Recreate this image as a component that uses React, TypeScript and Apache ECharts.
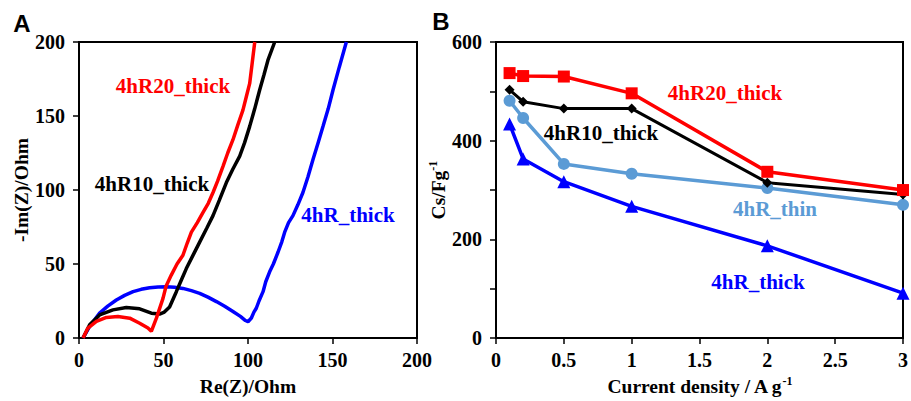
import React, { useEffect, useRef } from "react";
import * as echarts from "echarts";

// Panel A: Nyquist plots [Re(Z), -Im(Z)]
const nyquist4hR20: [number, number][] = [
  [2.4, 0], [5.3, 6.7], [10.3, 11.2], [16.2, 13.9], [23, 14.5], [30, 13.4], [35.9, 10], [40.8, 6.7], [42.8, 4.5],
  [45.8, 13.4], [49.7, 26.8], [51.5, 35], [54.6, 42.5], [58, 50], [61.5, 55.9], [64, 64], [66.5, 71.5], [70, 78], [73.4, 84.9],
  [76.5, 91], [79.3, 98.3], [82, 106], [85.2, 116], [88, 125], [91.1, 134], [94, 144], [97, 154], [99, 163], [101, 172], [102.5, 186], [104, 200],
];
const nyquist4hR10: [number, number][] = [
  [2.4, 0], [6.3, 8.9], [12.2, 15.6], [20.1, 19], [28, 20.6], [35.9, 19.7], [42.8, 16.8], [47.7, 16.2], [50.5, 17.5],
  [53.6, 21], [57.6, 31.3], [60.5, 39], [63.5, 46.9], [67.5, 56], [71.4, 64.8], [75.5, 74], [79.3, 82.7], [83, 93], [87.2, 105],
  [91, 114], [95.1, 122.9], [98, 132], [101, 143], [104, 155], [106.9, 167.6], [109.5, 178], [111.8, 187.7], [115.8, 200],
];
const nyquist4hR: [number, number][] = [
  [2.4, 0], [6.3, 7.8], [12.2, 16.8], [17, 21.5], [22.1, 25.7], [27, 28.8], [32, 31.3], [36.8, 32.9], [41.8, 34], [46.8, 34.5],
  [51.7, 34.6], [56.5, 34.3], [61.5, 33.5], [66.5, 32], [71.4, 30.2], [76.3, 27.6], [81.3, 24.6], [86.2, 21.4], [91.1, 17.9],
  [95.5, 14.6], [98.5, 11.8], [100, 11], [102, 13.5], [103.5, 17.5], [104.9, 20.1], [106.5, 25], [108.9, 31.3], [110.5, 38],
  [112.8, 44.7], [115, 50], [117.8, 58.1], [120, 65], [121.7, 71.5], [124, 78], [126.6, 82.7], [129.5, 90], [132.5, 98.3],
  [135.5, 109], [138.5, 120.7], [141.5, 132], [144.4, 143], [147.5, 155], [150.3, 167.6], [154, 183], [158.2, 200],
];

// Panel B: specific capacitance vs current density
const currentDensity = [0.1, 0.2, 0.5, 1, 2, 3];
const cs4hR20Thick = [537, 531, 530, 496, 337, 300];
const cs4hR10Thick = [503, 479, 465, 465, 315, 291];
const cs4hRThin = [481, 446, 353, 333, 304, 270];
const cs4hRThick = [434, 363, 317, 267, 187, 91];

const FONT = "'Liberation Serif', 'Times New Roman', serif";
const RED = "#ff0000";
const BLACK = "#000000";
const LIGHTBLUE = "#5b9bd5";
const BLUE = "#0000ff";

const pairs = (xs: number[], ys: number[]) => xs.map((x, i) => [x, ys[i]]);

export default function App() {
  const ref = useRef<HTMLDivElement>(null);
  useEffect(() => {
    if (!ref.current) return;
    const chart = echarts.init(ref.current, null, { renderer: "svg" });
    const axisLabel = { fontFamily: FONT, fontWeight: "bold" as const, fontSize: 20, color: "#000" };
    const axisCommon = {
      axisLine: { show: true, onZero: false, lineStyle: { color: "#000", width: 2 } },
      axisTick: { show: true, inside: false, length: 6, lineStyle: { color: "#000", width: 1.5 } },
      splitLine: { show: false },
      nameTextStyle: { fontFamily: FONT, fontWeight: "bold" as const, fontSize: 19.5, color: "#000" },
    };
    const richTitle = {
      a: { fontFamily: FONT, fontWeight: "bold" as const, fontSize: 19.5, color: "#000", lineHeight: 22 },
      b: { fontFamily: FONT, fontWeight: "bold" as const, fontSize: 12, color: "#000", verticalAlign: "top" as const, lineHeight: 22 },
    };
    const label = (text: string, x: number, y: number, color: string) => ({
      type: "text",
      x,
      y,
      style: {
        text,
        fill: color,
        font: `bold 21px ${FONT}`,
        align: "center",
        verticalAlign: "middle",
      },
    });
    chart.setOption({
      animation: false,
      grid: [
        { left: 79, top: 42, width: 338, height: 298, show: true, borderColor: "#000", borderWidth: 2, backgroundColor: "transparent" },
        { left: 496, top: 42, width: 408, height: 300, show: true, borderColor: "#000", borderWidth: 2, backgroundColor: "transparent" },
      ],
      xAxis: [
        {
          ...axisCommon,
          type: "value",
          gridIndex: 0,
          min: 0,
          max: 200,
          interval: 50,
          axisLabel: { ...axisLabel, margin: 12 },
          name: "Re(Z)/Ohm",
          nameLocation: "middle",
          nameGap: 38,
        },
        {
          ...axisCommon,
          type: "value",
          gridIndex: 1,
          min: 0,
          max: 3,
          interval: 0.5,
          axisLabel: { ...axisLabel, margin: 12 },
          name: "{a|Current density / A g}{b|-1}",
          nameLocation: "middle",
          nameGap: 36,
          nameTextStyle: { rich: richTitle },
        },
      ],
      yAxis: [
        {
          ...axisCommon,
          type: "value",
          gridIndex: 0,
          min: 0,
          max: 200,
          interval: 50,
          axisLabel: { ...axisLabel, margin: 14 },
          name: "-Im(Z)/Ohm",
          nameLocation: "middle",
          nameRotate: 90,
          nameGap: 47,
        },
        {
          ...axisCommon,
          type: "value",
          gridIndex: 1,
          min: 0,
          max: 600,
          interval: 100,
          axisLabel: {
            ...axisLabel,
            margin: 14,
            formatter: (v: number) => (v % 200 === 0 ? String(v) : ""),
          },
          name: "{a|Cs/Fg}{b|-1}",
          nameLocation: "middle",
          nameRotate: 90,
          nameGap: 46,
          nameTextStyle: { rich: richTitle },
        },
      ],
      series: [
        { type: "line", xAxisIndex: 0, yAxisIndex: 0, data: nyquist4hR, showSymbol: false, lineStyle: { color: BLUE, width: 3.5 }, itemStyle: { color: BLUE } },
        { type: "line", xAxisIndex: 0, yAxisIndex: 0, data: nyquist4hR10, showSymbol: false, lineStyle: { color: BLACK, width: 3.5 }, itemStyle: { color: BLACK } },
        { type: "line", xAxisIndex: 0, yAxisIndex: 0, data: nyquist4hR20, showSymbol: false, lineStyle: { color: RED, width: 3.5 }, itemStyle: { color: RED } },
        { type: "line", xAxisIndex: 1, yAxisIndex: 1, data: pairs(currentDensity, cs4hRThick), symbol: "triangle", symbolSize: 13, lineStyle: { color: BLUE, width: 3.5 }, itemStyle: { color: BLUE } },
        { type: "line", xAxisIndex: 1, yAxisIndex: 1, data: pairs(currentDensity, cs4hRThin), symbol: "circle", symbolSize: 12, lineStyle: { color: LIGHTBLUE, width: 3.5 }, itemStyle: { color: LIGHTBLUE } },
        { type: "line", xAxisIndex: 1, yAxisIndex: 1, data: pairs(currentDensity, cs4hR10Thick), symbol: "diamond", symbolSize: 10, lineStyle: { color: BLACK, width: 3 }, itemStyle: { color: BLACK } },
        { type: "line", xAxisIndex: 1, yAxisIndex: 1, data: pairs(currentDensity, cs4hR20Thick), symbol: "rect", symbolSize: 12, lineStyle: { color: RED, width: 3.5 }, itemStyle: { color: RED } },
      ],
      graphic: [
        { type: "text", x: 22, y: 23, style: { text: "A", fill: "#000", font: "bold 24px 'Liberation Sans', Arial, sans-serif", align: "center", verticalAlign: "middle" } },
        { type: "text", x: 441, y: 21, style: { text: "B", fill: "#000", font: "bold 24px 'Liberation Sans', Arial, sans-serif", align: "center", verticalAlign: "middle" } },
        label("4hR20_thick", 173, 86, RED),
        label("4hR10_thick", 152, 184, BLACK),
        label("4hR_thick", 348, 215, BLUE),
        label("4hR20_thick", 725, 93, RED),
        label("4hR10_thick", 601, 133, BLACK),
        label("4hR_thin", 775, 209, LIGHTBLUE),
        label("4hR_thick", 758, 282, BLUE),
      ],
    });
    return () => chart.dispose();
  }, []);
  return <div ref={ref} style={{ position: "fixed", left: 0, top: 0, width: 911, height: 401, background: "#fff" }} />;
}
